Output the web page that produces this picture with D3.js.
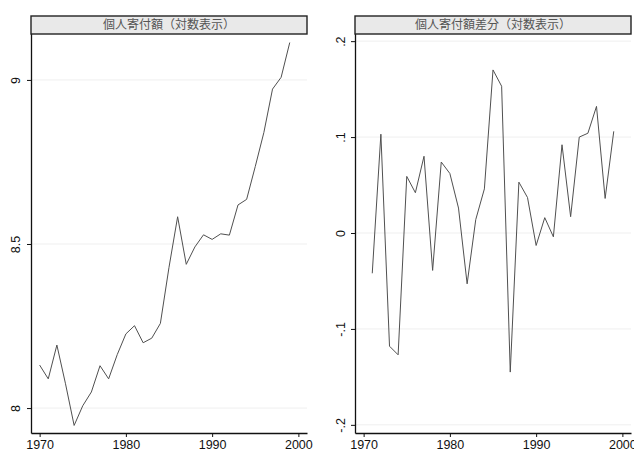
<!DOCTYPE html>
<html>
<head>
<meta charset="utf-8">
<script src="https://cdn.jsdelivr.net/npm/d3@7"></script>
<style>
  html, body { margin: 0; padding: 0; background: #fff; }
  svg { display: block; }
</style>
</head>
<body>
<svg id="chart" width="634" height="452"></svg>
<script>
// Years of observation
const years = [1970, 1971, 1972, 1973, 1974, 1975, 1976, 1977, 1978, 1979,
               1980, 1981, 1982, 1983, 1984, 1985, 1986, 1987, 1988, 1989,
               1990, 1991, 1992, 1993, 1994, 1995, 1996, 1997, 1998, 1999];

// Log of individual giving
const logGiving = [8.131, 8.089, 8.192, 8.074, 7.947, 8.007, 8.049, 8.129, 8.089, 8.163,
                   8.226, 8.251, 8.199, 8.213, 8.258, 8.429, 8.583, 8.438, 8.491, 8.528,
                   8.514, 8.531, 8.527, 8.619, 8.636, 8.736, 8.840, 8.972, 9.008, 9.114];

// First difference of the log series (starts in 1971)
const diffYears = years.slice(1);
const diffGiving = [-0.042, 0.103, -0.118, -0.127, 0.059, 0.042, 0.080, -0.039, 0.074,
                    0.062, 0.026, -0.053, 0.014, 0.046, 0.170, 0.153, -0.145, 0.053,
                    0.037, -0.013, 0.016, -0.004, 0.092, 0.017, 0.100, 0.104, 0.132,
                    0.036, 0.106];

// Tick labels
const xTicks = [1970, 1980, 1990, 2000];
const levelTicks = [8, 8.5, 9];
const levelTickLabels = ["8", "8.5", "9"];
const diffTicks = [-0.2, -0.1, 0, 0.1, 0.2];
const diffTickLabels = ["-.2", "-.1", "0", ".1", ".2"];

// Panel titles
const titles = ["個人寄付額（対数表示）", "個人寄付額差分（対数表示）"];

const svg = d3.select("#chart");

const panels = [
  { title: titles[0], xs: years, ys: logGiving,
    left: 31, right: 307, yDomain: [7.924, 9.143],
    ticks: levelTicks, tickLabels: levelTickLabels, labelX: 20 },
  { title: titles[1], xs: diffYears, ys: diffGiving,
    left: 355, right: 631, yDomain: [-0.2085, 0.2085],
    ticks: diffTicks, tickLabels: diffTickLabels, labelX: 345 }
];

const plotTop = 34, plotBottom = 433, boxTop = 16;

panels.forEach(p => {
  const g = svg.append("g");
  const x = d3.scaleLinear().domain([1969, 2001]).range([p.left, p.right]);
  const y = d3.scaleLinear().domain(p.yDomain).range([plotBottom, plotTop - 1]);

  // horizontal grid lines
  g.append("g")
    .selectAll("line")
    .data(p.ticks)
    .join("line")
    .attr("x1", p.left).attr("x2", p.right)
    .attr("y1", d => y(d)).attr("y2", d => y(d))
    .attr("stroke", "#efefef").attr("stroke-width", 1);

  // series line
  g.append("path")
    .datum(p.xs.map((d, i) => [d, p.ys[i]]))
    .attr("fill", "none")
    .attr("stroke", "#505050")
    .attr("stroke-width", 1)
    .attr("stroke-linejoin", "miter")
    .attr("d", d3.line().x(d => x(d[0])).y(d => y(d[1])));

  // x axis
  const xAxis = g.append("g")
    .attr("transform", `translate(0,${plotBottom})`)
    .call(d3.axisBottom(x).tickValues(xTicks).tickFormat(d3.format("d"))
      .tickSize(4).tickSizeOuter(0).tickPadding(3));
  xAxis.select(".domain").attr("stroke", "#111").attr("stroke-width", 1.3);
  xAxis.selectAll(".tick line").attr("stroke", "#111");
  xAxis.selectAll("text")
    .attr("font-family", "Liberation Sans, Arial, sans-serif")
    .attr("font-size", 12.5).attr("fill", "#111");

  // y axis with rotated labels
  const yAxis = g.append("g")
    .attr("transform", `translate(${p.left},0)`)
    .call(d3.axisLeft(y).tickValues(p.ticks)
      .tickFormat((d, i) => p.tickLabels[i]).tickSize(4).tickSizeOuter(0));
  yAxis.select(".domain").attr("stroke", "#111").attr("stroke-width", 1.3);
  yAxis.selectAll(".tick line").attr("stroke", "#111");
  yAxis.selectAll("text")
    .attr("font-family", "Liberation Sans, Arial, sans-serif")
    .attr("font-size", 12.5).attr("fill", "#111")
    .attr("text-anchor", "middle")
    .attr("dy", 0)
    .attr("x", 0).attr("y", 0)
    .attr("transform", `translate(${p.labelX - p.left},0) rotate(-90)`);

  // title box
  g.append("rect")
    .attr("x", p.left).attr("y", boxTop)
    .attr("width", p.right - p.left).attr("height", plotTop - boxTop)
    .attr("fill", "#e9e9e9").attr("stroke", "#222").attr("stroke-width", 1.4);
  g.append("text")
    .attr("x", (p.left + p.right) / 2).attr("y", 29)
    .attr("text-anchor", "middle")
    .attr("font-family", "Noto Sans CJK JP, sans-serif")
    .attr("font-size", 12).attr("fill", "#555")
    .text(p.title);
});
</script>
</body>
</html>
